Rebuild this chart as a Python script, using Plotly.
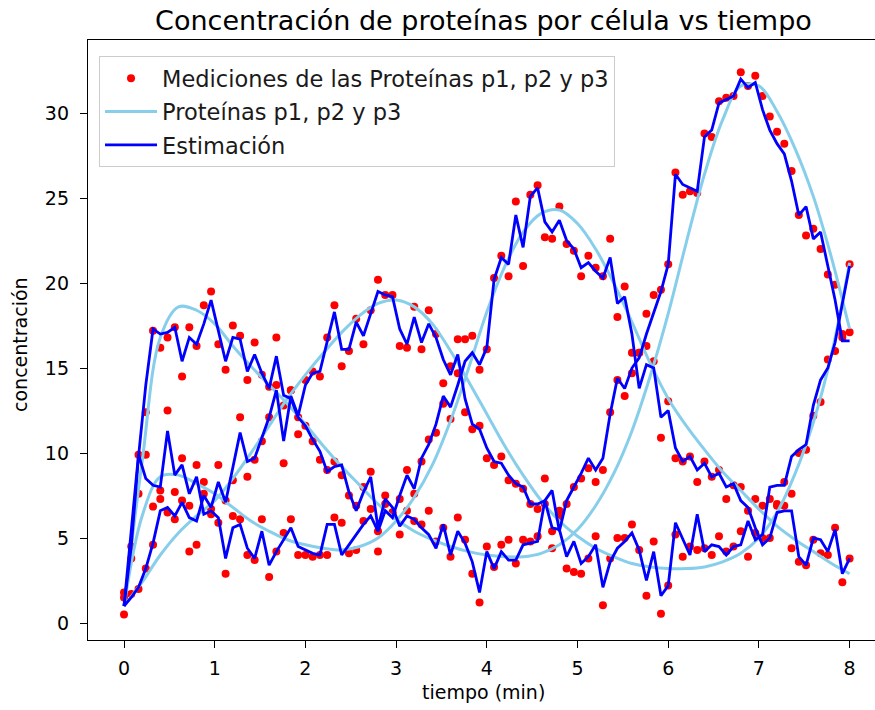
import numpy as np
import plotly.graph_objects as go

# Time grids (minutes)
t_obs = np.linspace(0, 8, 101)      # sampling instants of measurements / estimates
t_model = np.linspace(0, 8, 41)     # instants of the model curves

# Model curves for the three proteins
p1_model = [1.0, 9.5, 16.8, 18.6, 18.4, 17.6, 16.3, 15.1, 14.0, 12.9, 11.7,
            10.4, 9.2, 8.1, 7.0, 6.1, 5.4, 4.9, 4.5, 4.2, 4.0, 3.9, 3.9, 4.1,
            4.6, 5.5, 6.9, 8.8, 11.3, 14.5, 18.2, 22.4, 26.4, 29.6, 31.6, 31.6,
            30.1, 27.9, 25.1, 21.5, 17.3]
p2_model = [1.0, 2.4, 4.0, 5.3, 6.3, 7.2, 8.5, 10.0, 11.6, 13.2, 14.6,
            15.9, 17.1, 18.1, 18.8, 19.0, 18.6, 17.6, 16.0, 14.2, 12.3, 10.4,
            8.7, 7.2, 6.0, 5.1, 4.4, 3.9, 3.5, 3.3, 3.2, 3.2, 3.3, 3.6, 4.1,
            5.0, 6.5, 8.8, 11.8, 15.8, 21.2]
p3_model = [1.0, 6.3, 8.6, 8.7, 8.2, 7.6, 6.8, 6.0, 5.4, 4.9, 4.6,
            4.4, 4.3, 4.5, 5.0, 6.0, 7.4, 9.3, 11.9, 15.0, 18.3, 21.0,
            23.0, 24.1, 24.3, 23.5, 22.0, 20.0, 17.7, 15.3, 13.2, 11.6, 10.2,
            8.9, 7.8, 6.7, 5.7, 4.9, 4.2, 3.5, 2.9]

# Noisy measurements
p1_meas = [1.8, 4.5, 9.9, 12.4, 17.2, 16.2, 16.8, 17.4, 14.5, 17.4, 16.3, 18.7, 19.5,
           16.4, 14.9, 17.5, 16.9, 14.3, 16.5, 14.6, 13.9, 16.8, 12.8, 13.7, 12.1, 11.6, 10.7, 9.6,
           9.0, 9.5, 8.7, 7.5, 6.9, 8.0, 8.9, 5.4, 7.5, 6.5, 5.2, 6.6, 6.0, 5.8, 6.6, 4.8, 5.6,
           3.9, 6.2, 4.9, 2.9, 1.2, 4.5,
           3.3, 4.6, 4.9, 3.5, 4.9, 4.8, 5.1, 7.0, 4.4, 6.2, 7.0, 8.0, 8.5, 9.1, 8.3, 9.0, 12.4,
           14.3, 13.35, 14.7, 15.9, 18.2, 19.3, 19.6, 21.1,
           26.5, 25.2, 25.4, 25.3, 28.8, 28.6, 30.7, 30.9, 31.0, 32.4, 31.6, 32.2, 31.0, 29.8,
           28.9, 28.2, 26.6, 24.0, 22.8, 23.2, 22.0, 20.5, 19.9, 17.0, 17.1]
p2_meas = [0.5, 1.7, 2.0, 3.2, 4.6, 7.3, 6.5, 6.1, 7.2, 4.2, 4.6, 7.6, 6.7,
           9.3, 7.2, 8.4, 12.1, 8.6, 9.6, 10.7, 12.1, 14.0, 9.4, 13.7, 11.1, 14.3, 14.8, 14.5,
           16.8, 18.7, 15.1, 16.0, 17.9, 16.4, 18.4, 20.2, 19.3, 19.3, 16.3, 16.2, 18.6,
           16.1, 18.4, 17.0, 14.1, 15.1, 16.7, 12.4, 11.4, 11.6, 9.7, 9.3, 9.8, 8.4,
           8.2, 7.9, 7.0, 6.7, 8.5, 5.4, 6.6, 3.2, 3.0, 2.9, 3.8, 5.1, 1.05, 3.8, 5.0, 5.0,
           5.8, 4.3, 1.6, 4.8, 0.55, 2.2, 5.2, 3.9,
           4.5, 4.3, 4.4, 4.0, 5.1, 4.2, 4.5, 5.4, 3.9, 5.3, 6.9, 7.3, 7.0, 8.3, 7.6, 10.0,
           10.2, 12.2, 13.0, 15.5, 16.0, 16.8, 21.1]
p3_meas = [1.5, 3.8, 7.6, 9.9, 6.85, 7.8, 12.5, 7.7, 9.7, 6.9, 9.3, 8.3, 6.4,
           5.9, 2.9, 6.3, 6.1, 4.0, 3.7, 6.1, 2.7, 4.2, 5.3, 6.1, 4.0, 4.0, 3.9, 4.0,
           4.0, 6.2, 5.9, 4.1, 4.3, 6.0, 6.7, 4.2, 7.0, 6.5, 7.3, 9.0, 7.6, 9.5, 10.8, 11.2,
           12.9, 12.0, 14.7, 16.7, 16.9, 14.9, 16.1, 20.3, 21.6, 20.4,
           24.8, 21.0, 25.2, 25.75, 22.7, 22.6, 24.5, 22.3, 21.9, 20.4, 21.6, 20.9, 20.4, 22.6,
           18.0, 19.8, 15.9, 15.9, 16.3, 15.4, 10.9, 13.05, 9.7, 9.5,
           9.8, 8.3, 9.5, 8.6, 9.0, 7.3, 8.1, 8.0, 6.6, 7.3, 5.0, 5.0, 6.9, 6.9, 4.4, 3.6,
           3.4, 4.9, 4.1, 4.0, 5.6, 2.4, 3.8]

# Filter estimates
p1_est = [1.0, 4.5, 9.8, 14.0, 17.3, 17.0, 17.1, 17.4, 15.4, 16.8, 16.4, 17.6, 19.0,
          17.2, 15.4, 16.8, 16.7, 14.8, 15.8, 14.7, 13.8, 15.7, 13.4, 13.2, 12.1, 11.6, 10.8, 10.1,
          8.9, 9.2, 9.3, 7.7, 6.6, 7.7, 8.6, 5.6, 7.3, 6.8,
          5.7, 6.3, 6.1, 5.6, 5.2, 4.4, 5.8, 4.0, 5.4, 4.7, 3.6, 1.8, 4.2, 3.2, 4.2, 3.7,
          3.7, 4.6, 4.7, 4.8, 7.2, 7.8, 5.4, 7.2, 8.0, 8.8, 9.7, 9.0, 9.7, 12.3, 14.4, 13.8,
          15.0, 15.6, 17.0, 18.3, 19.5, 21.1,
          26.4, 25.8, 25.6, 25.4, 28.6, 29.0, 30.6, 30.8, 31.0, 32.0, 31.5, 31.8, 30.2, 29.0,
          28.2, 27.6, 26.0, 24.0, 24.5, 22.6, 23.0, 21.0, 19.0, 16.6, 16.6]
p2_est = [1.0, 1.5, 2.1, 3.2, 4.7, 6.6, 6.8, 6.3, 7.1, 6.2, 6.0, 7.5, 6.8,
          8.3, 7.1, 9.2, 11.2, 9.5, 9.7, 10.9, 12.1, 13.7, 10.7, 13.35, 12.2, 14.0, 14.7, 14.8,
          16.5, 18.3, 16.1, 16.1, 17.7, 16.9, 18.2, 19.5, 19.3, 19.2, 17.3, 16.4, 18.0, 16.5,
          17.6, 16.8, 15.5, 14.6, 15.8, 13.2, 11.7, 11.4, 10.3, 9.5, 9.4, 8.7,
          8.2, 8.0, 7.0, 7.0, 7.2, 5.6, 5.5, 3.9, 4.8, 3.5, 3.9, 4.6, 2.1, 3.6, 4.4, 4.8,
          5.3, 4.3, 2.5, 4.2, 1.6, 2.2, 5.9, 5.0,
          4.0, 6.4, 4.2, 4.6, 4.5, 4.0, 4.5, 4.6, 6.0, 4.9, 5.2, 8.0, 8.1, 8.1, 9.8, 10.2,
          10.5, 12.8, 14.3, 15.0, 16.5, 18.8, 21.0]
p3_est = [1.0, 5.5, 9.9, 8.5, 8.1, 8.0, 11.3, 8.7, 9.3, 7.6, 8.6, 6.4, 6.6,
          6.2, 3.8, 5.6, 5.8, 4.4, 3.8, 5.4, 3.4, 4.2, 4.9, 5.6, 4.5, 4.3, 4.1, 4.0,
          5.8, 5.8, 4.0, 4.6, 5.2, 5.8, 6.3, 5.4, 6.6, 6.2, 7.5, 8.7, 7.9, 9.7,
          10.5, 11.7, 13.35, 12.7, 14.0, 15.4, 15.9, 15.2, 16.2, 20.2, 21.5, 21.1,
          24.0, 22.1, 25.1, 25.6, 23.6, 23.0, 23.7, 22.5, 22.0, 20.9, 21.2, 20.7, 20.3, 21.5,
          18.8, 19.2, 17.0, 13.8, 15.2, 15.0, 12.1, 12.5, 10.3, 9.5,
          9.8, 9.0, 9.4, 8.6, 8.8, 8.0, 8.2, 7.2, 6.8, 5.6, 4.6, 5.0, 6.5, 6.6, 6.6, 3.9,
          3.4, 5.0, 4.9, 4.2, 5.5, 2.9, 3.8]

measurements = [p1_meas, p2_meas, p3_meas]
models = [p1_model, p2_model, p3_model]
estimates = [p1_est, p2_est, p3_est]

FONT = "DejaVu Sans"
fig = go.Figure()

for i, y in enumerate(measurements):
    fig.add_trace(go.Scatter(
        x=t_obs, y=y, mode="markers",
        marker=dict(color="#ff0000", size=8),
        name="Mediciones de las Proteínas p1, p2 y p3",
        legendgroup="med", showlegend=(i == 0)))

for i, y in enumerate(models):
    fig.add_trace(go.Scatter(
        x=t_model, y=y, mode="lines",
        line=dict(color="#87ceeb", width=3, shape="spline", smoothing=1.0),
        name="Proteínas p1, p2 y p3",
        legendgroup="mod", showlegend=(i == 0)))

for i, y in enumerate(estimates):
    fig.add_trace(go.Scatter(
        x=t_obs, y=y, mode="lines",
        line=dict(color="#0000ff", width=2.8),
        name="Estimación",
        legendgroup="est", showlegend=(i == 0)))

axis_common = dict(
    showgrid=False, zeroline=False, showline=True, linecolor="black", linewidth=1.3,
    ticks="outside", ticklen=7, tickwidth=1.3, tickcolor="black",
    tickfont=dict(family=FONT, size=19, color="black"),
)

fig.update_layout(
    width=875, height=710,
    margin=dict(l=88, r=0, t=40, b=70),
    paper_bgcolor="white", plot_bgcolor="white",
    font=dict(family=FONT, color="black"),
    title=dict(text="Concentración de proteínas por célula vs tiempo",
               font=dict(family=FONT, size=27, color="black"),
               x=0.5025, xref="paper", xanchor="center",
               y=1 - 21 / 710, yref="container", yanchor="middle"),
    xaxis=dict(range=[-0.397, 8.28], tickvals=list(range(0, 9)), mirror=True,
               ticklabelstandoff=4, **axis_common),
    yaxis=dict(range=[-1.0, 34.3], tickvals=list(range(0, 31, 5)), mirror=False,
               ticklabelstandoff=7, **axis_common),
    legend=dict(x=0.014, y=0.973, xanchor="left", yanchor="top",
                bgcolor="rgba(255,255,255,0.8)", bordercolor="#cccccc", borderwidth=1,
                font=dict(family=FONT, size=22.5, color="#1a1a1a"),
                traceorder="grouped", tracegroupgap=1, itemwidth=52),
    annotations=[
        dict(text="tiempo (min)", xref="paper", yref="paper", x=0.502, y=-0.087,
             showarrow=False, xanchor="center", yanchor="middle",
             font=dict(family=FONT, size=19, color="black")),
        dict(text="concentración", xref="paper", yref="paper", x=-0.0864, y=0.4917,
             showarrow=False, xanchor="center", yanchor="middle", textangle=-90,
             font=dict(family=FONT, size=19, color="black")),
    ],
)

fig.write_html("out.html")
